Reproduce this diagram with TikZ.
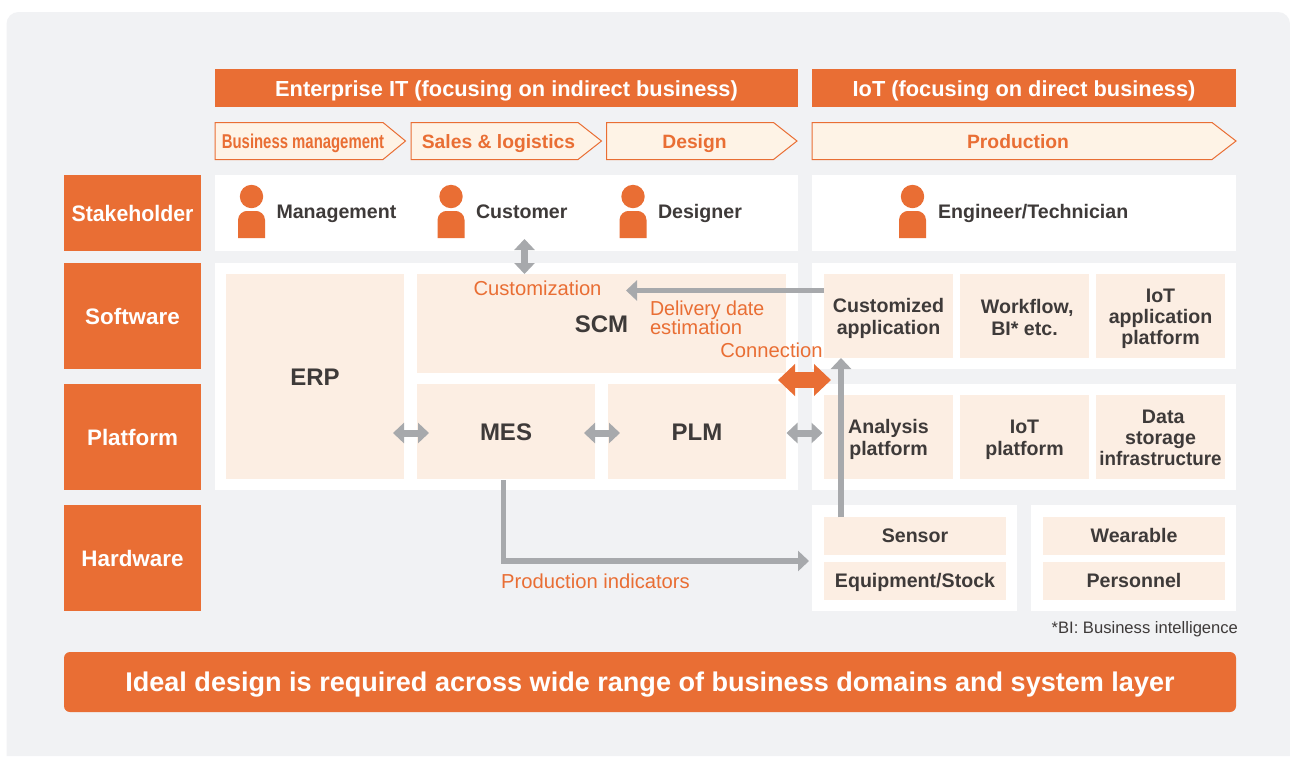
\documentclass[tikz,border=0pt]{standalone}
\usepackage{fontspec}
\setmainfont{Liberation Sans}
\usetikzlibrary{arrows.meta}
\definecolor{org}{HTML}{E96E34}
\definecolor{peach}{HTML}{FCEEE3}
\definecolor{cream}{HTML}{FEF3E6}
\definecolor{bgc}{HTML}{F1F2F4}
\definecolor{ink}{HTML}{3E3A39}
\definecolor{gry}{HTML}{A7A9AC}
\newcommand{\bx}[7][]{\node[#1,minimum width={(#5-#3)*1pt},minimum height={(#6-#4)*1pt}] (#2) at ({(#3+#5)/2},{(#4+#6)/2}) {#7};}
\newcommand{\chev}[7]{% name x1 shoulder tip cx cy text
  \draw[chevline] (#2,122.5) -- (#3,122.5) -- (#4,141) -- (#3,159.5) -- (#2,159.5) -- cycle;
  \node[chevtext] (#1) at (#5,#6) {#7};}
\newcommand{\up}[1][19.5pt]{\rule{0pt}{#1}}
\tikzset{
  base/.style={inner sep=0pt,outer sep=0pt,align=center},
  head/.style={base,fill=org,text=white,font=\bfseries\fontsize{21.8}{24}\selectfont,text height=17pt,text depth=0pt},
  side/.style={base,fill=org,text=white,font=\bfseries\fontsize{22.4}{24}\selectfont,text height=16pt,text depth=0pt},
  panel/.style={base,fill=white},
  cell/.style={base,fill=peach,text=ink,font=\bfseries\fontsize{19.6}{22}\selectfont},
  cellt/.style={cell,font=\bfseries\fontsize{19.6}{21}\selectfont},
  cellb/.style={base,fill=peach,text=ink,font=\bfseries\fontsize{24}{28}\selectfont,text height=17pt,text depth=0pt},
  one/.style={text height=13.5pt,text depth=0pt},
  chevline/.style={draw=org,fill=cream,line width=1pt},
  chevtext/.style={base,text=org,font=\bfseries\fontsize{19.3}{22}\selectfont,text height=14pt,text depth=0pt},
  who/.style={base,anchor=west,text=ink,font=\bfseries\fontsize{19.6}{22}\selectfont,text height=13.5pt,text depth=0pt},
  note/.style={base,text=org,font=\fontsize{20.2}{19}\selectfont},
  gline/.style={draw=gry,line width=5.5pt},
  garrow/.style={gline,-{Triangle[length=11pt,width=20pt]}},
  gdouble/.style={draw=gry,line width=7pt,{Triangle[length=11pt,width=20pt]}-{Triangle[length=11pt,width=20pt]}},
  odouble/.style={draw=org,line width=16pt,{Triangle[length=17pt,width=31pt]}-{Triangle[length=17pt,width=31pt]}},
  person/.pic={
    \fill[org] (0,-14.5) circle [radius=11.7];
    \fill[org] (-13.5,27) -- (-13.5,9) .. controls (-13.5,3) and (-8,0) .. (-5,0) -- (5,0) .. controls (8,0) and (13.5,3) .. (13.5,9) -- (13.5,27) -- cycle;
  }
}
\begin{document}
\begin{tikzpicture}[x=1pt,y=-1pt]
\useasboundingbox (0,0) rectangle (1290,756);
\fill[white] (0,0) rectangle (1290,756);
\fill[bgc] (6.5,756) [rounded corners=12pt] -- (6.5,12) -- (1290,12) [sharp corners] -- (1290,756) -- cycle;

% headers
\bx[head]{hIT}{215}{69}{798}{107}{Enterprise IT (focusing on indirect business)}
\bx[head]{hIoT}{812}{69}{1236}{107}{IoT (focusing on direct business)}

% chevrons
\chev{cBM}{215}{383}{405.5}{303}{141.5}{\scalebox{0.745}[1]{\fontsize{20}{22}\selectfont Business management}}
\chev{cSL}{411}{578}{601.5}{498.5}{141.5}{Sales \& logistics}
\chev{cDE}{606.5}{773.5}{797}{694.5}{141.5}{Design}
\chev{cPR}{812}{1212}{1236}{1018}{141.5}{Production}

% side labels
\bx[side]{sS}{64}{175}{201}{251}{\scalebox{0.95}[1]{Stakeholder}}
\bx[side]{sW}{64}{263}{201}{369}{Software}
\bx[side]{sP}{64}{384}{201}{490}{Platform}
\bx[side]{sH}{64}{505}{201}{611}{Hardware}

% white panels
\bx[panel]{pS1}{215}{175}{798}{251}{}
\bx[panel]{pS2}{812}{175}{1236}{251}{}
\bx[panel]{pL}{215}{263}{798}{490}{}
\bx[panel]{pW}{812}{263}{1236}{369}{}
\bx[panel]{pP}{812}{384}{1236}{490}{}
\bx[panel]{pH1}{812}{505}{1017}{611}{}
\bx[panel]{pH2}{1031}{505}{1236}{611}{}

% people
\pic at (251.5,211) {person};
\pic at (451,211) {person};
\pic at (633,211) {person};
\pic at (912.5,211) {person};
\node[who] (wM) at (276.5,212) {Management};
\node[who] (wC) at (476,212) {Customer};
\node[who] (wD) at (658,212) {Designer};
\node[who] (wE) at (938,212) {Engineer/Technician};

% enterprise cells
\bx[cellb]{erp}{226}{274}{404}{479}{ERP}
\bx[cellb]{scm}{417}{274}{786}{373}{SCM}
\bx[cellb]{mes}{417}{384}{595}{479}{MES}
\bx[cellb]{plm}{608}{384}{786}{479}{PLM}

% IoT cells
\bx[cell]{cA}{824}{274}{953}{358}{\up Customized\\application}
\bx[cell]{cB}{960}{274}{1089}{358}{\up[17.5pt] Workflow,\\BI* etc.}
\bx[cellt]{cC}{1096}{274}{1225}{358}{\up IoT\\application\\platform}
\bx[cell]{cD}{824}{395}{953}{479}{\up Analysis\\platform}
\bx[cell]{cE}{960}{395}{1089}{479}{\up IoT\\platform}
\bx[cellt]{cF}{1096}{395}{1225}{479}{\up[15.5pt] Data\\storage\\\scalebox{0.96}[1]{infrastructure}}
\bx[cell,one]{sen}{824}{517}{1006}{555}{Sensor}
\bx[cell,one]{eqp}{824}{562}{1006}{600}{Equipment/Stock}
\bx[cell,one]{wea}{1043}{517}{1225}{555}{Wearable}
\bx[cell,one]{per}{1043}{562}{1225}{600}{Personnel}

% connector end points
\coordinate (cuT) at (524.5,239);
\coordinate (cuB) at (524.5,274);
\coordinate (scT) at (626,290.5);
\coordinate (caL) at (824,290.5);
\coordinate (snT) at (841,517);
\coordinate (caB) at (841,358);
\coordinate (msB) at (503.5,480);
\coordinate (msC) at (503.5,561);
\coordinate (eqL) at (809,561);
\coordinate (e1) at (393,433);
\coordinate (e2) at (429,433);
\coordinate (m1) at (584,433);
\coordinate (m2) at (620,433);
\coordinate (p1) at (786.5,433);
\coordinate (p2) at (822.5,433);
\coordinate (o1) at (778,380);
\coordinate (o2) at (831,380);

% connectors
\draw[gdouble] (cuT) -- (cuB);
\draw[garrow] (caL) -- (scT);
\draw[gline,-{Triangle[length=11pt,width=20pt]},miter limit=10] (msB) -- (msC) -- (eqL);
\draw[gdouble] (e1) -- (e2);
\draw[gdouble] (m1) -- (m2);
\draw[gdouble] (p1) -- (p2);
\draw[odouble] (o1) -- (o2);
\draw[garrow] (snT) -- (caB);

% notes
\node[note] (nCu) at (537.5,288.5) {Customization};
\node[note,align=left,anchor=west] (nDe) at (650,317.5) {\scalebox{0.97}[1]{Delivery date}\\estimation};
\node[note] (nCo) at (771.5,350.5) {Connection};
\node[note] (nPr) at (595.5,581.5) {Production indicators};

% footnote and banner
\node[base,anchor=east,text=ink,font=\fontsize{16.6}{18}\selectfont] (foot) at (1238,629) {*BI: Business intelligence};
\node[base,fill=org,rounded corners=6pt,text=white,minimum width=1172pt,minimum height=60pt,font=\bfseries\fontsize{27.05}{30}\selectfont,text height=19.5pt,text depth=0pt] (ban) at (650,682) {Ideal design is required across wide range of business domains and system layer};
\end{tikzpicture}
\end{document}
